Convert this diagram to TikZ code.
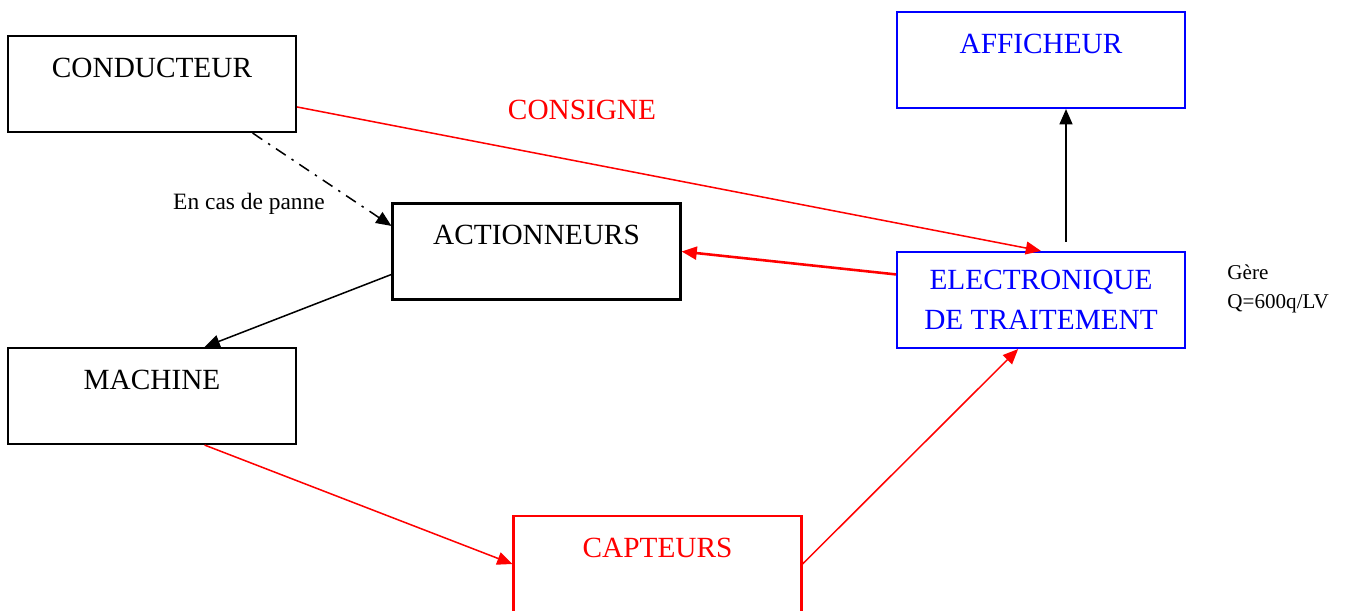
\documentclass[tikz,border=0pt]{standalone}
\usepackage{fontspec}
\setmainfont{Liberation Serif}
\usetikzlibrary{arrows.meta}
\definecolor{sysred}{HTML}{FF0000}
\definecolor{sysblue}{HTML}{0000FF}

\begin{document}
\begin{tikzpicture}[x=0.015cm, y=-0.015cm,
  every node/.style={font=\fontsize{12.5}{17}\selectfont, align=center},
  box/.style={draw=#1, text=#1, line width=0.9pt, minimum width=4.32cm, minimum height=1.44cm, inner sep=0pt},
  box/.default=black,
  arrow/.style={-{Triangle[length=6.5pt,width=5.5pt]}, line width=0.65pt, draw=#1},
  arrow/.default=black,
  note/.style={font=\fontsize{10}{13}\selectfont}
]
\clip (0,0) rectangle (1348,611);

\node[box] (cond) at (152,84) {CONDUCTEUR\\[-3pt]~};
\node[box] (act) at (536.5,251.5) {ACTIONNEURS\\[-3pt]~};
\node[box] (mach) at (152,396) {MACHINE\\[-3pt]~};
\node[box=sysred] (capt) at (657.5,564) {CAPTEURS\\[-3pt]~};
\node[box=sysblue] (affi) at (1041,60) {AFFICHEUR\\[-3pt]~};
\node[box=sysblue] (elec) at (1041,300) {ELECTRONIQUE\\DE TRAITEMENT};

\draw[arrow=sysred] (cond.-9.5) -- (elec.north);
\draw[arrow, dash pattern=on 5pt off 3pt on 1pt off 3pt] (cond.-26.6) -- (act.170.8);
\draw[arrow=sysred, line width=1.1pt] (elec.170.1) -- (act.east);
\draw[arrow] (act.189.6) -- (mach.43.8);
\draw[arrow=sysred] (mach.-43.8) -- (capt.west);
\draw[arrow=sysred] (capt.east) -- (elec.-115.6);
\draw[arrow, shorten <=0.135cm] (elec.63.4) -- (affi.-63.4);

\node[text=sysred] (consigne) at (582,110) {CONSIGNE};
\node[note] (panne) at (249,204) {En cas de panne};
\node[font=\fontsize{9}{12.8}\selectfont, align=left, inner sep=0pt, anchor=base west] (gere) at (1227,309) {Gère\\Q=600q/LV};

\end{tikzpicture}
\end{document}
